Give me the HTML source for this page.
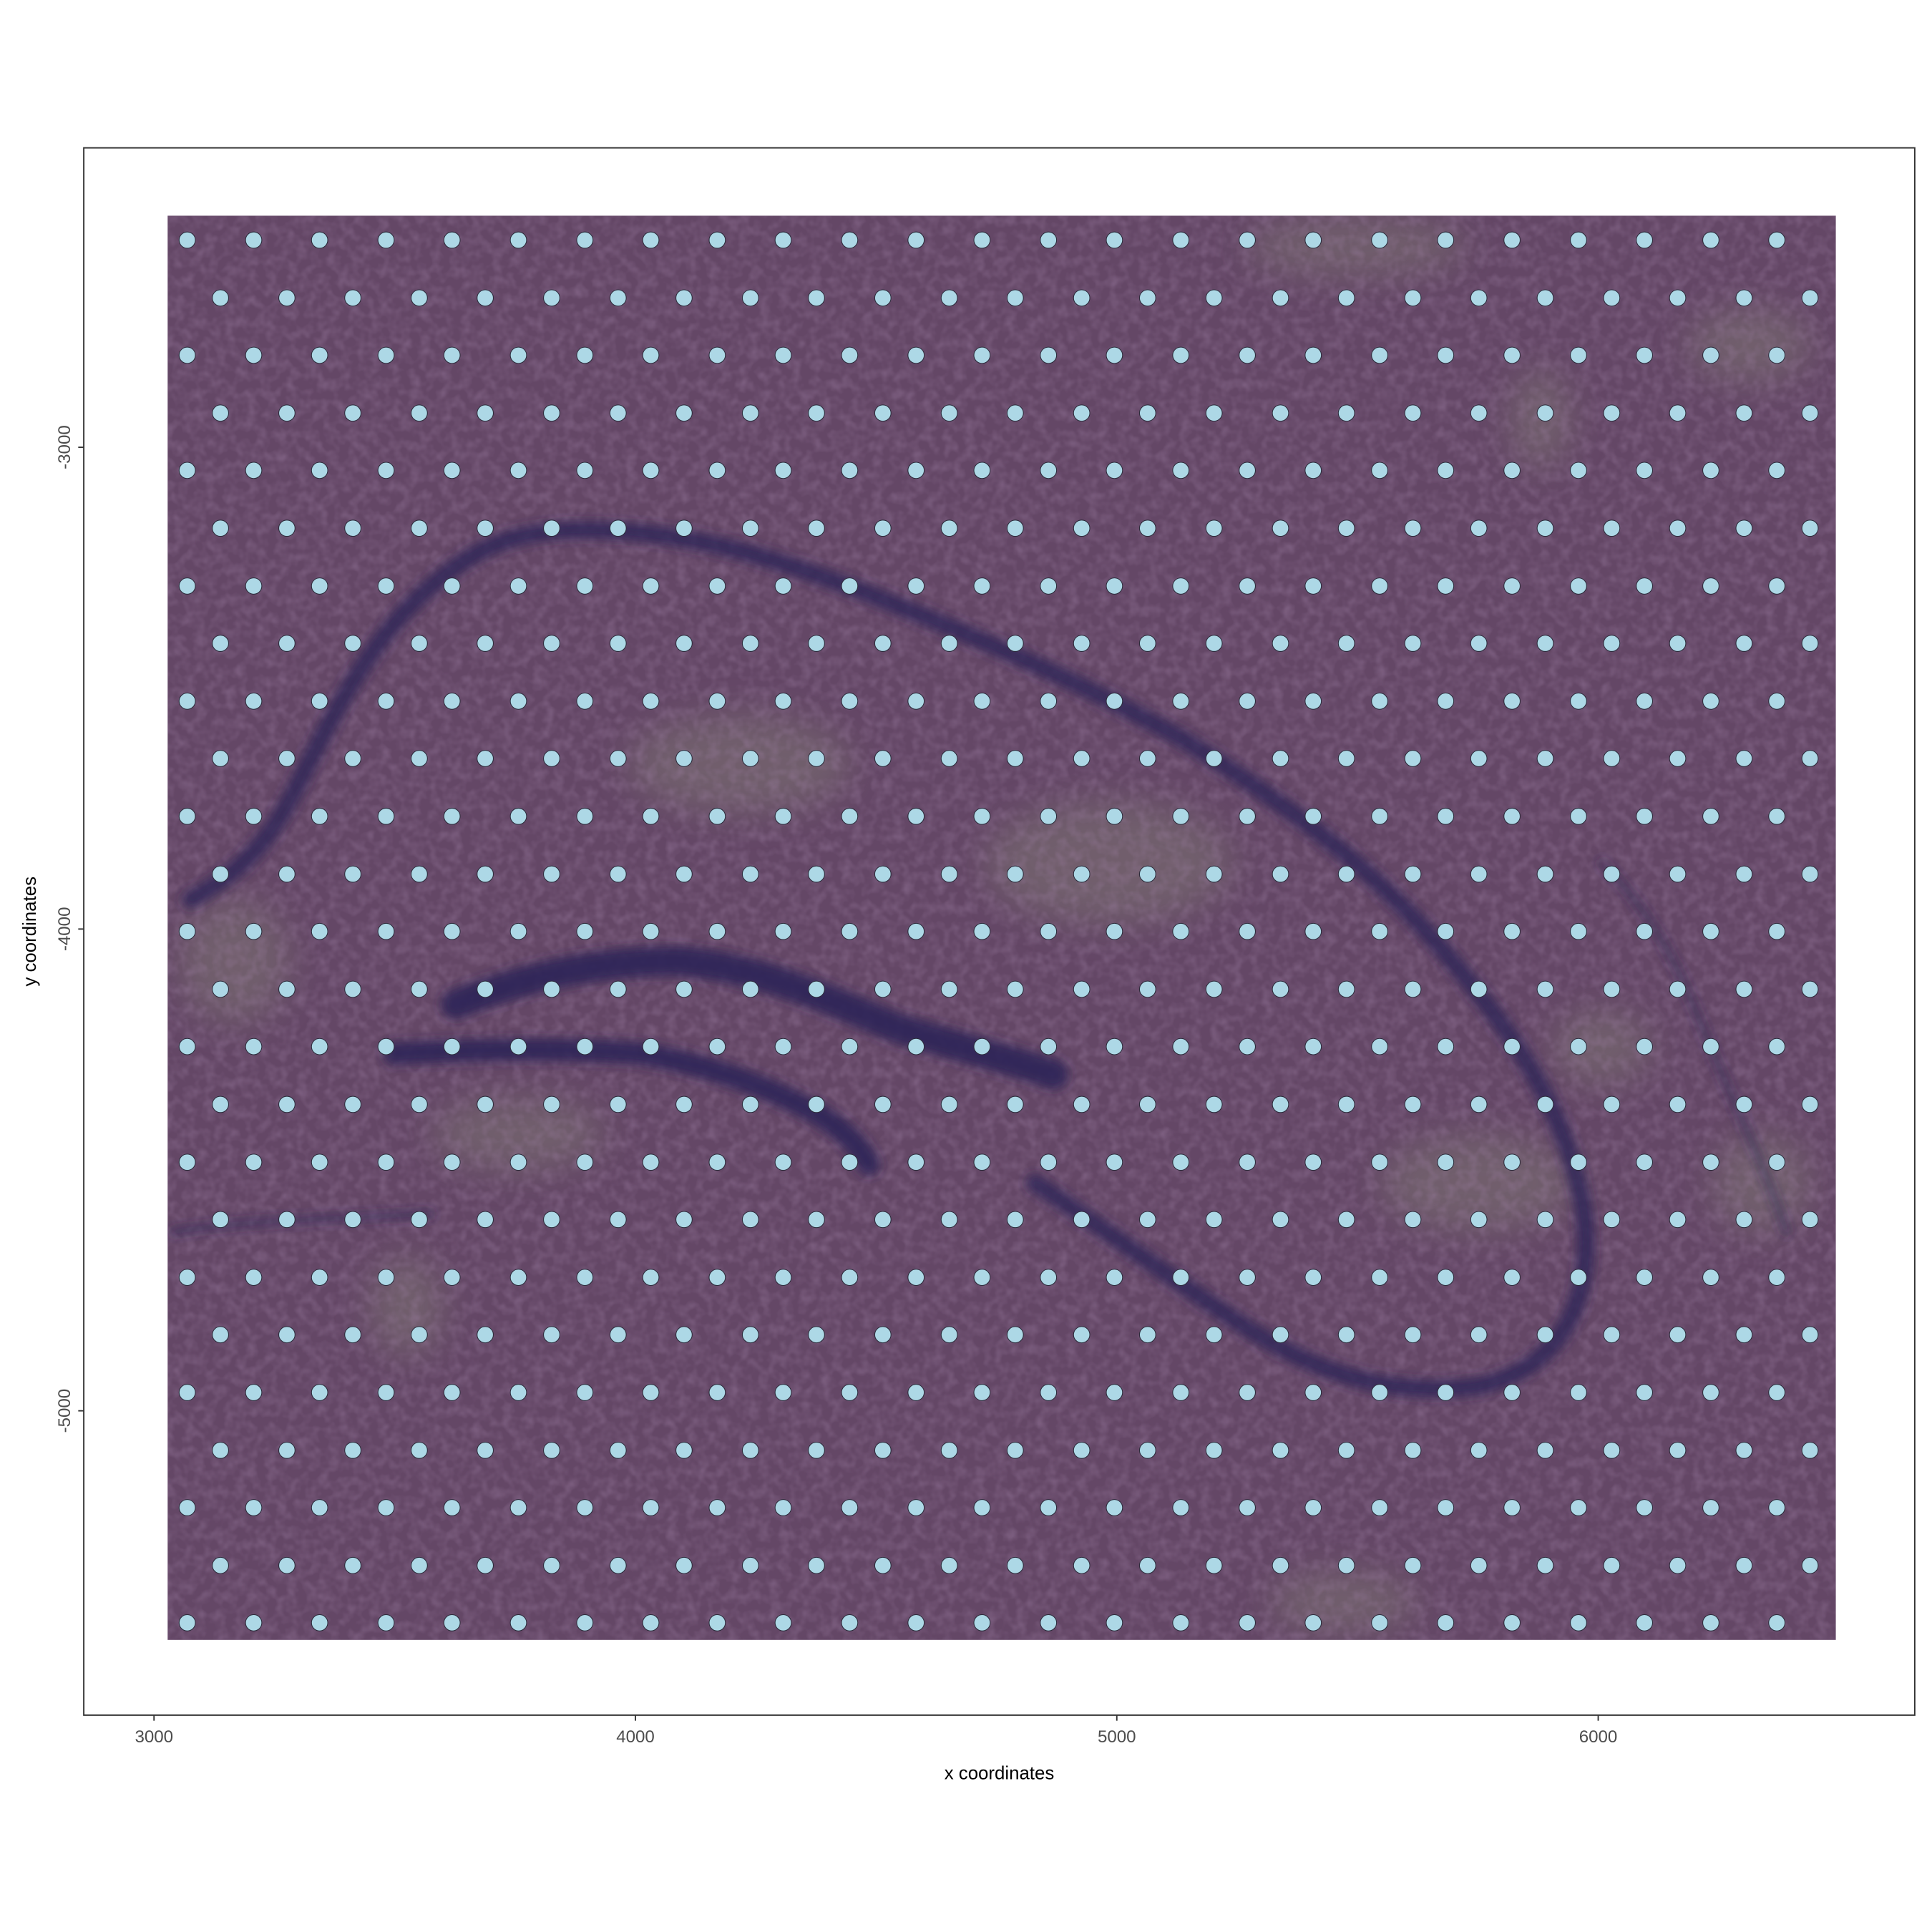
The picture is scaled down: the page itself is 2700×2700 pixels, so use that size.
<!DOCTYPE html>
<html><head><meta charset="utf-8"><style>
html,body{margin:0;padding:0;background:#fff;}
svg{display:block;}
text{font-family:"Liberation Sans",sans-serif;}
</style></head><body>
<svg id="chart" width="2700" height="2700" viewBox="0 0 1568 1568" xmlns="http://www.w3.org/2000/svg">
<defs>
<filter id="blur4"><feGaussianBlur stdDeviation="4"/></filter>
<filter id="blur12"><feGaussianBlur stdDeviation="14"/></filter>
<filter id="noise" x="0" y="0" width="100%" height="100%">
<feTurbulence type="fractalNoise" baseFrequency="0.12" numOctaves="2" seed="3" result="t"/>
<feColorMatrix in="t" type="matrix" values="0 0 0 0 0.35  0 0 0 0 0.22  0 0 0 0 0.38  0 0 0 1.2 -0.45"/>
</filter>
<clipPath id="imgclip"><rect x="136" y="175" width="1354" height="1156"/></clipPath>
</defs>
<rect x="68" y="120" width="1486" height="1272" fill="#fff" stroke="#333" stroke-width="1.1"/>
<g clip-path="url(#imgclip)">
<rect x="136" y="175" width="1354" height="1156" fill="#644766"/>
<g filter="url(#blur12)" fill="#7b7272" opacity="0.55">
<ellipse cx="1100" cy="200" rx="90" ry="25"/><ellipse cx="1420" cy="280" rx="50" ry="30"/>
<ellipse cx="1250" cy="340" rx="25" ry="40"/><ellipse cx="190" cy="780" rx="45" ry="50"/>
<ellipse cx="330" cy="1060" rx="30" ry="40"/><ellipse cx="1200" cy="960" rx="80" ry="40"/>
<ellipse cx="600" cy="620" rx="90" ry="40"/><ellipse cx="900" cy="700" rx="100" ry="50"/>
<ellipse cx="1300" cy="850" rx="40" ry="30"/><ellipse cx="1430" cy="960" rx="40" ry="40"/>
<ellipse cx="1090" cy="1300" rx="60" ry="25"/><ellipse cx="420" cy="920" rx="70" ry="30"/>
</g>
<rect x="136" y="175" width="1354" height="1156" filter="url(#noise)" opacity="0.6"/>
<g filter="url(#blur4)" fill="none" stroke="#2e2558" stroke-linecap="round" stroke-linejoin="round">
<path stroke-width="14" opacity="0.85" d="M155,730 C190,710 215,690 240,640 C270,580 300,520 345,480 C390,440 420,430 480,430 C560,432 620,450 700,480 C800,520 880,555 960,600 C1040,650 1110,700 1170,770 C1230,840 1270,900 1285,980 C1295,1050 1270,1110 1200,1125 C1120,1135 1060,1110 1000,1070 C940,1030 900,1000 840,960"/>
<path stroke-width="24" opacity="0.9" d="M370,815 C420,795 480,780 550,780 C620,785 680,815 730,835 C780,850 820,860 855,872"/>
<path stroke-width="18" opacity="0.9" d="M320,855 C380,852 450,850 520,855 C580,865 630,885 665,905 C690,920 700,935 705,945"/>
<path stroke-width="6" opacity="0.6" d="M140,1000 C200,990 260,990 350,985"/>
<path stroke-width="6" opacity="0.55" d="M1300,700 C1340,740 1360,780 1380,830 C1400,880 1430,940 1450,1000"/>
</g>
</g>
<g id="spots"></g>
<g id="axes"></g>
<text x="811" y="1444" text-anchor="middle" font-size="15" fill="#000">x coordinates</text>
<text transform="translate(29,756) rotate(-90)" text-anchor="middle" font-size="15" fill="#000">y coordinates</text>
</svg>
<script>
const evenRowX = [3069,3207,3344,3482,3619,3757,3895,4032,4170,4307,4445,4583,4720,4858,4995,5133,5271,5408,5546,5683,5821,5959,6096,6234,6371];
const oddRowX = [3138,3276,3413,3551,3688,3826,3964,4101,4239,4376,4514,4652,4789,4927,5064,5202,5340,5477,5615,5752,5890,6028,6165,6303,6440];
const rowY = [-2570,-2690,-2809,-2929,-3048,-3168,-3288,-3407,-3527,-3646,-3766,-3886,-4005,-4125,-4244,-4364,-4484,-4603,-4723,-4842,-4962,-5082,-5201,-5321,-5440];
const xTicks = [3000,4000,5000,6000];
const yTicks = [-3000,-4000,-5000];
const xTickLabels = ["3000","4000","5000","6000"];
const yTickLabels = ["-3000","-4000","-5000"];

const NS = "http://www.w3.org/2000/svg";
function X(v){ return 125 + (v - 3000) * 0.3907; }
function Y(v){ return 363 + (-3000 - v) * 0.391; }

const spots = document.getElementById('spots');
rowY.forEach((yv, r) => {
  const xs = (r % 2 === 0) ? evenRowX : oddRowX;
  xs.forEach(xv => {
    const c = document.createElementNS(NS, 'circle');
    c.setAttribute('cx', X(xv));
    c.setAttribute('cy', Y(yv));
    c.setAttribute('r', 6.6);
    c.setAttribute('fill', '#add8e6');
    c.setAttribute('stroke', '#2b2b3a');
    c.setAttribute('stroke-width', '0.6');
    
    
    spots.appendChild(c);
  });
});

const axes = document.getElementById('axes');
xTicks.forEach((v, i) => {
  const l = document.createElementNS(NS, 'line');
  l.setAttribute('x1', X(v)); l.setAttribute('x2', X(v));
  l.setAttribute('y1', 1392); l.setAttribute('y2', 1396.5);
  l.setAttribute('stroke', '#333'); l.setAttribute('stroke-width', '1.1');
  
  
  axes.appendChild(l);
  const t = document.createElementNS(NS, 'text');
  t.setAttribute('x', X(v)); t.setAttribute('y', 1414);
  t.setAttribute('text-anchor', 'middle'); t.setAttribute('font-size', '14');
  t.setAttribute('fill', '#4d4d4d');
  t.textContent = xTickLabels[i];
  
  
  axes.appendChild(t);
});
yTicks.forEach((v, i) => {
  const l = document.createElementNS(NS, 'line');
  l.setAttribute('x1', 63.5); l.setAttribute('x2', 68);
  l.setAttribute('y1', Y(v)); l.setAttribute('y2', Y(v));
  l.setAttribute('stroke', '#333'); l.setAttribute('stroke-width', '1.1');
  
  
  axes.appendChild(l);
  const t = document.createElementNS(NS, 'text');
  t.setAttribute('transform', 'translate(57,' + Y(v) + ') rotate(-90)');
  t.setAttribute('text-anchor', 'middle'); t.setAttribute('font-size', '14');
  t.setAttribute('fill', '#4d4d4d');
  t.textContent = yTickLabels[i];
  
  
  axes.appendChild(t);
});
</script>
</body></html>
